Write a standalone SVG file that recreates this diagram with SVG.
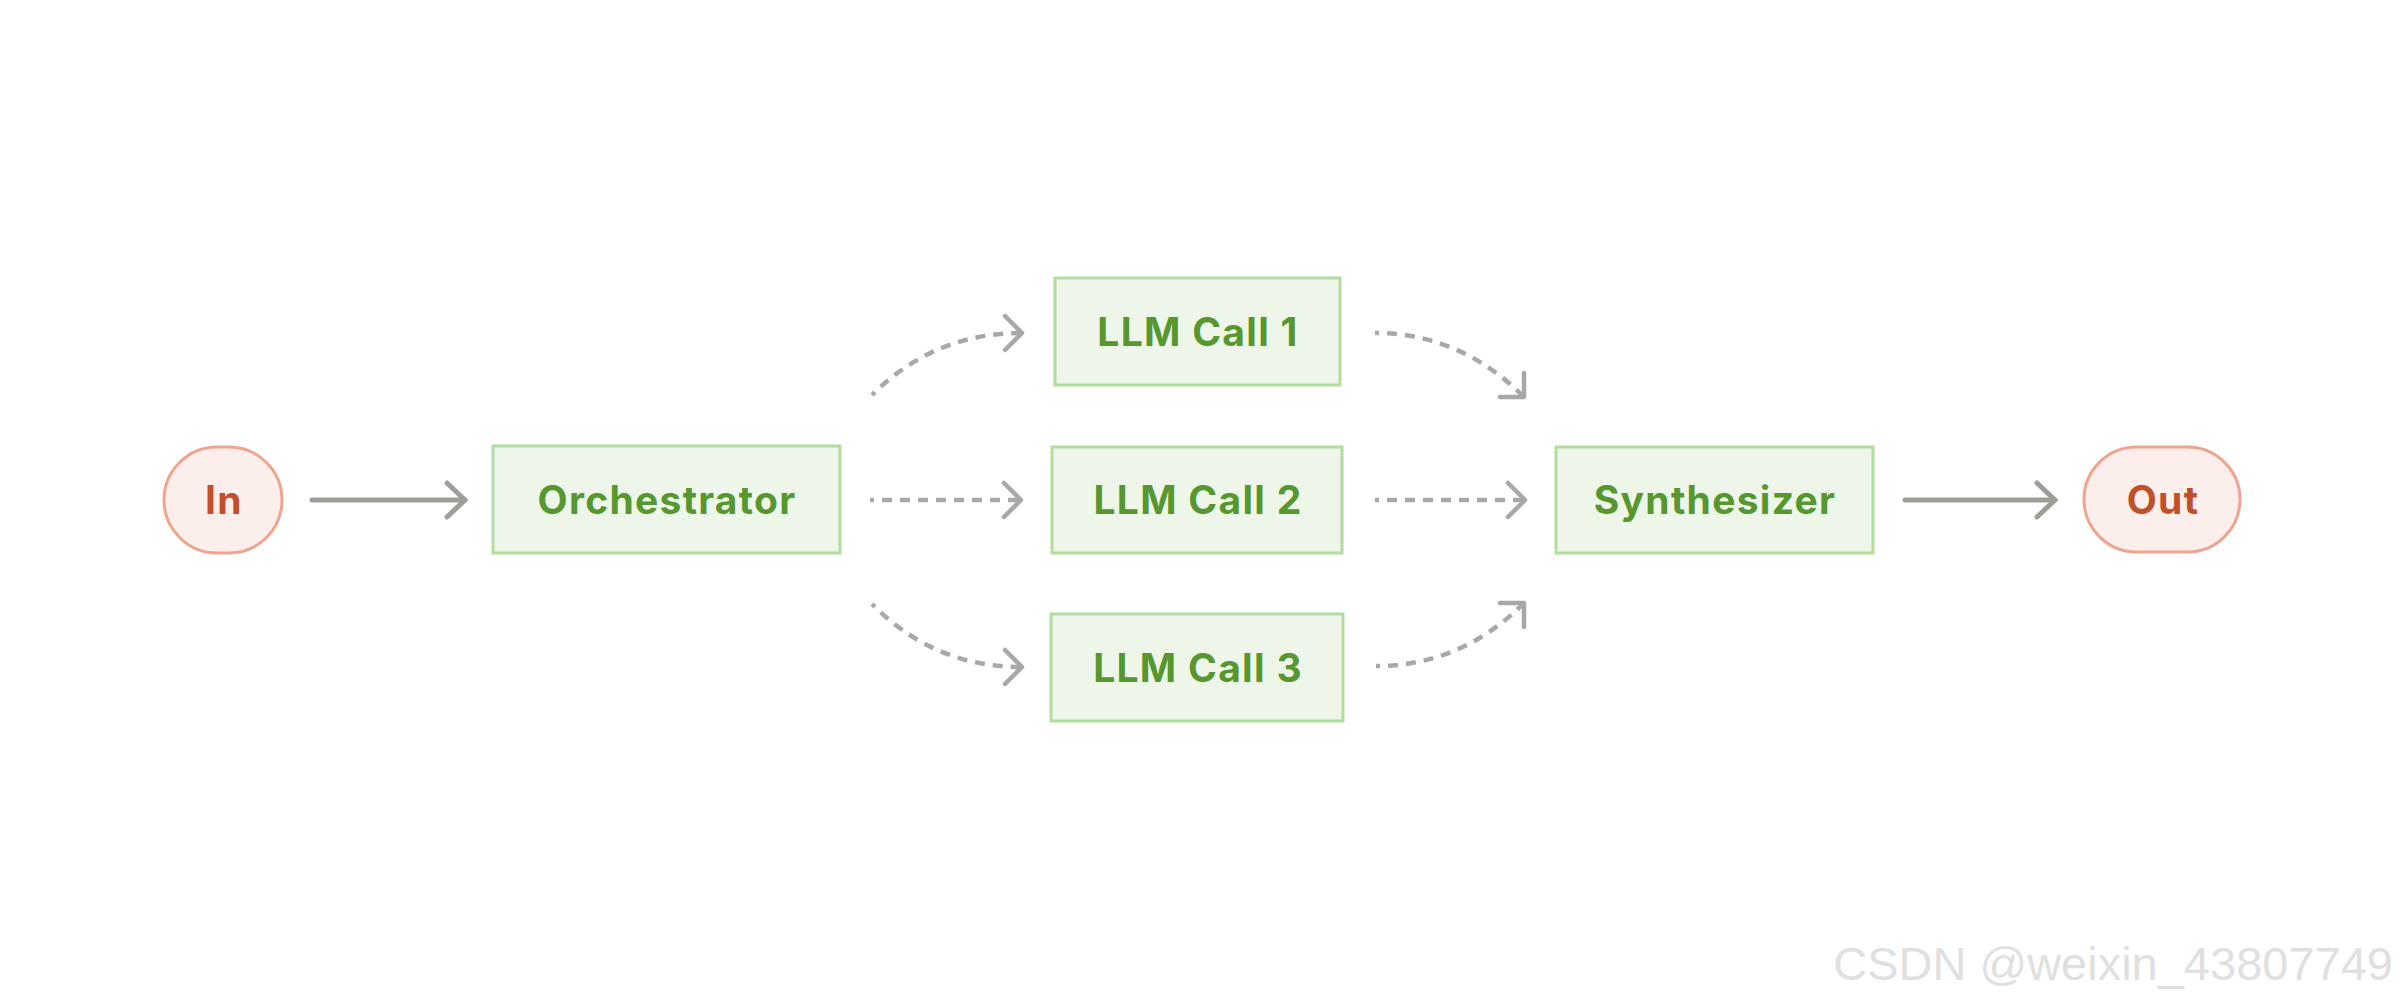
<svg xmlns="http://www.w3.org/2000/svg" width="2401" height="1000" viewBox="0 0 2401 1000">
<style>
.box{fill:#eef5e9;stroke:#b3dc9f;stroke-width:3}
.pill{fill:#fcefeb;stroke:#eea48e;stroke-width:3}
.lbl{font-family:Inter,"Liberation Sans",sans-serif;font-weight:700;font-size:39px;letter-spacing:1.3px;text-anchor:middle;fill:#56972f}
.io{fill:#c14f28}
.solid{fill:none;stroke:#9e9e98;stroke-width:5;stroke-linecap:round}
.dash{fill:none;stroke:#a8a8a8;stroke-width:4.5;stroke-dasharray:10 8;stroke-dashoffset:6}
.wm{font-family:"Liberation Sans",Arial,sans-serif;font-size:47px;fill:#e0e0e0;text-anchor:end}
</style>
<defs>
<marker id="ah" markerUnits="userSpaceOnUse" orient="auto" refX="0" refY="0" markerWidth="40" markerHeight="40" overflow="visible">
<path d="M-18,-17 L0,0 L-18,17" fill="none" stroke="#9e9e98" stroke-width="5" stroke-linecap="round" stroke-linejoin="round"/>
</marker>
<marker id="ahd" markerUnits="userSpaceOnUse" orient="auto" refX="0" refY="0" markerWidth="40" markerHeight="40" overflow="visible">
<path d="M-17,-17 L0,0 L-17,17" fill="none" stroke="#a8a8a8" stroke-width="4.5" stroke-linecap="round" stroke-linejoin="round"/>
</marker>
</defs>
<rect width="2401" height="1000" fill="#ffffff"/>
<g id="connectors">
<path class="solid" d="M312,500 L465,500" marker-end="url(#ah)"/>
<path class="dash" d="M872,395 Q934,333 1022,333" marker-end="url(#ahd)"/>
<path class="dash" d="M870,500 L1021,500" marker-end="url(#ahd)"/>
<path class="dash" d="M872,604 Q934,667 1022,667" marker-end="url(#ahd)"/>
<path class="dash" d="M1375,333 Q1460,333 1524,397" marker-end="url(#ahd)"/>
<path class="dash" d="M1375,500 L1525,500" marker-end="url(#ahd)"/>
<path class="dash" d="M1376,666 Q1461,666 1524,603" marker-end="url(#ahd)"/>
<path class="solid" d="M1905,500 L2055,500" marker-end="url(#ah)"/>
</g>
<g id="in">
<rect class="pill" x="164" y="447" width="118" height="106" rx="53"/>
<text class="lbl io" x="224" y="514">In</text>
</g>
<g id="orchestrator">
<rect class="box" x="493" y="446" width="347" height="107"/>
<text class="lbl" x="667" y="514">Orchestrator</text>
</g>
<g id="llm1">
<rect class="box" x="1055" y="278" width="285" height="107"/>
<text class="lbl" x="1198" y="346">LLM Call 1</text>
</g>
<g id="llm2">
<rect class="box" x="1052" y="447" width="290" height="106"/>
<text class="lbl" x="1198" y="514">LLM Call 2</text>
</g>
<g id="llm3">
<rect class="box" x="1051" y="614" width="292" height="107"/>
<text class="lbl" x="1198" y="682">LLM Call 3</text>
</g>
<g id="synthesizer">
<rect class="box" x="1556" y="447" width="317" height="106"/>
<text class="lbl" x="1715" y="514">Synthesizer</text>
</g>
<g id="out">
<rect class="pill" x="2084" y="447" width="156" height="105" rx="52.5"/>
<text class="lbl io" x="2163" y="514">Out</text>
</g>
<text class="wm" x="2393" y="980">CSDN @weixin_43807749</text>
</svg>
